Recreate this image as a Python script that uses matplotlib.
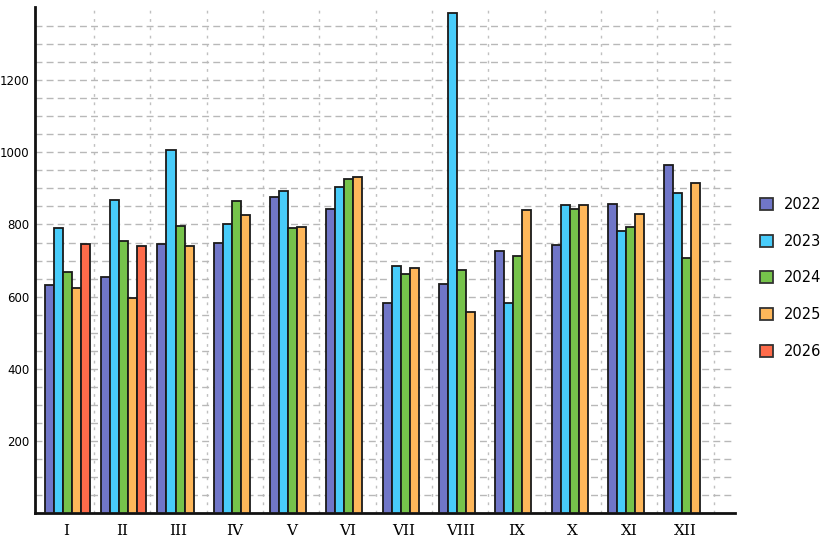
import numpy as np
import matplotlib
matplotlib.use('Agg')
import matplotlib.pyplot as plt
from matplotlib.patches import Patch

months = ['I', 'II', 'III', 'IV', 'V', 'VI', 'VII', 'VIII', 'IX', 'X', 'XI', 'XII']
years = ['2022', '2023', '2024', '2025', '2026']
colors = ['#7076C8', '#48CCFA', '#76C34B', '#FEB75A', '#FE6B4A']

v2022 = [633, 655, 747, 748, 875, 842, 581, 636, 727, 744, 858, 965]
v2023 = [789, 869, 1006, 800, 893, 903, 686, 1386, 583, 854, 781, 887]
v2024 = [667, 753, 797, 864, 791, 926, 663, 673, 712, 843, 794, 706]
v2025 = [625, 597, 739, 825, 792, 931, 678, 558, 840, 853, 829, 916]
v2026 = [747, 739]  # only I and II

series = [v2022, v2023, v2024, v2025, v2026]

fig = plt.figure(figsize=(8.27, 5.4), dpi=100)
ax = fig.add_axes([0.0423, 0.05, 0.8465, 0.937])

width = 0.16
for k, vals in enumerate(series):
    x = np.arange(len(vals)) + (k - 2) * width + 0.025
    ax.bar(x, vals, width, color=colors[k], edgecolor='#1a1a1a', linewidth=1.3,
           label=years[k], zorder=3)

ax.set_xlim(-0.55, 11.88)
ax.set_ylim(0, 1403)

ax.set_xticks(range(len(months)))
ax.set_xticklabels(months, family='DejaVu Serif', fontsize=11)
ax.set_xticks(np.arange(0.5, 12, 1), minor=True)
ax.set_yticks(range(200, 1400, 200))
ax.set_yticks(range(50, 1400, 50), minor=True)
ax.tick_params(axis='both', which='both', length=0)
ax.tick_params(axis='y', labelsize=8.5, pad=4)
ax.tick_params(axis='x', pad=8)

ax.grid(True, axis='y', which='both', color='#b8b8b8', linestyle=(0, (5, 3)), linewidth=1, zorder=0)
ax.grid(True, axis='x', which='minor', color='#c0c0c0', linestyle=(0, (2, 4)), linewidth=1, zorder=0)
ax.grid(False, axis='x', which='major')

for s in ['top', 'right']:
    ax.spines[s].set_visible(False)
for s in ['left', 'bottom']:
    ax.spines[s].set_linewidth(2)
    ax.spines[s].set_color('#111111')

handles = [Patch(facecolor=c, edgecolor='#333333', linewidth=1.3) for c in colors]
leg = fig.legend(handles, years, loc='upper left', bbox_to_anchor=(0.903, 0.66),
                 frameon=False, fontsize=10.5, handlelength=0.9, handleheight=0.9,
                 labelspacing=1.5, handletextpad=0.75)

fig.savefig('out.png', dpi=100)
